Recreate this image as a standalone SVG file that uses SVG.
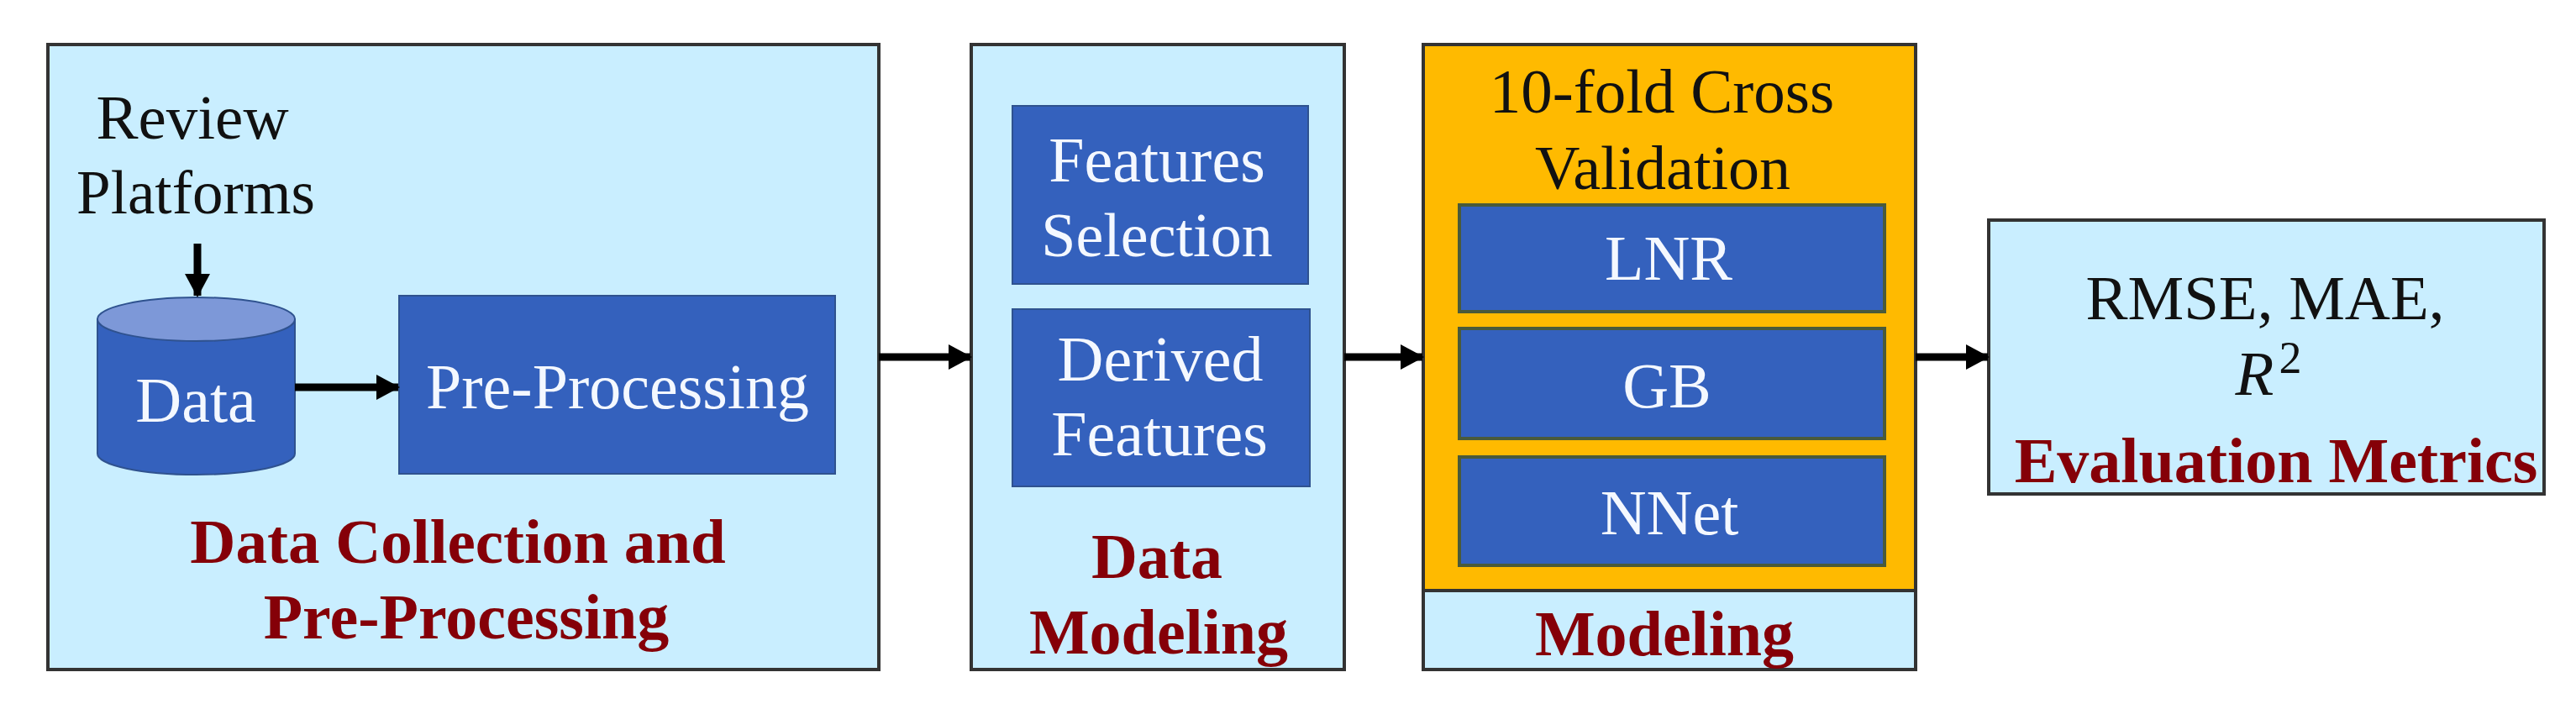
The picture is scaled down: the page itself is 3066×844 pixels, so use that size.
<svg xmlns="http://www.w3.org/2000/svg" width="3066" height="844" viewBox="0 0 3066 844">
<style>
text{font-family:"Liberation Serif","Times New Roman",serif;text-anchor:middle}
.panel{fill:#c9eeff;stroke:#333;stroke-width:4}
.blue{fill:#3461bd;stroke:#2f528f;stroke-width:2}
.onblue{fill:#3461bd;stroke:#4a5a3a;stroke-width:4}
.dark{fill:#111;font-size:75px}
.white{fill:#f4f8ff;font-size:76px}
.head{fill:#850008;font-size:76px;font-weight:bold}
.link{fill:none;stroke:#000;stroke-width:9;marker-end:url(#tip)}
</style>
<defs>
<marker id="tip" markerUnits="userSpaceOnUse" markerWidth="28" markerHeight="30" refX="26" refY="15" orient="auto">
<path d="M0 0L28 15L0 30Z" fill="#000"/>
</marker>
</defs>
<rect width="3066" height="844" fill="#fff"/>
<g id="collection">
<rect class="panel" x="57" y="53" width="989" height="744"/>
<text class="dark" x="229" y="165">Review</text>
<text class="dark" x="233" y="254" font-size="73" style="font-size:73px">Platforms</text>
<text class="head" x="545" y="670" style="font-size:75px">Data Collection and</text>
<text class="head" x="555" y="760">Pre-Processing</text>
</g>
<g id="data-store">
<path class="blue" d="M116 380V540A117.500 25 0 0 0 351 540V380Z"/>
<ellipse cx="233.500" cy="380" rx="117.500" ry="26" fill="#7d98d8" stroke="#2f528f" stroke-width="2"/>
<text class="white" x="233" y="502">Data</text>
</g>
<g id="pre-processing">
<rect class="blue" x="475" y="352" width="519" height="212"/>
<text class="white" x="735" y="486">Pre-Processing</text>
</g>
<g id="data-modeling">
<rect class="panel" x="1156" y="53" width="444" height="744"/>
<text class="head" x="1377" y="688">Data</text>
<text class="head" x="1379" y="778">Modeling</text>
</g>
<g id="features-selection">
<rect class="blue" x="1205" y="126" width="352" height="212"/>
<text class="white" x="1377" y="216">Features</text>
<text class="white" x="1377" y="305" style="font-size:74px">Selection</text>
</g>
<g id="derived-features">
<rect class="blue" x="1205" y="368" width="354" height="211"/>
<text class="white" x="1381" y="453">Derived</text>
<text class="white" x="1380" y="542">Features</text>
</g>
<g id="modeling">
<rect class="panel" x="1694" y="53" width="586" height="744"/>
<rect x="1694" y="53" width="586" height="650" fill="#ffba00" stroke="#333" stroke-width="4"/>
<text class="dark" x="1978" y="134">10-fold Cross</text>
<text class="dark" x="1979" y="225" style="font-size:74px">Validation</text>
<text class="head" x="1981" y="780">Modeling</text>
</g>
<g id="lnr">
<rect class="onblue" x="1737" y="244" width="506" height="127"/>
<text class="white" x="1986" y="333">LNR</text>
</g>
<g id="gb">
<rect class="onblue" x="1737" y="391" width="506" height="131"/>
<text class="white" x="1984" y="485">GB</text>
</g>
<g id="nnet">
<rect class="onblue" x="1737" y="544" width="506" height="129"/>
<text class="white" x="1987" y="636">NNet</text>
</g>
<g id="metrics">
<rect class="panel" x="2367" y="262" width="661" height="326"/>
<text class="dark" x="2696" y="380">RMSE, MAE,</text>
<text class="dark" x="2700" y="470" font-style="italic">R<tspan font-style="normal" font-size="54" dx="6" dy="-26">2</tspan></text>
<text class="head" x="2709" y="574">Evaluation Metrics</text>
</g>
<g id="connectors">
<path class="link" d="M235 290V352"/>
<path class="link" d="M351 461H474"/>
<path class="link" d="M1046 425H1155"/>
<path class="link" d="M1600 425H1693"/>
<path class="link" d="M2280 425H2366"/>
</g>
</svg>
